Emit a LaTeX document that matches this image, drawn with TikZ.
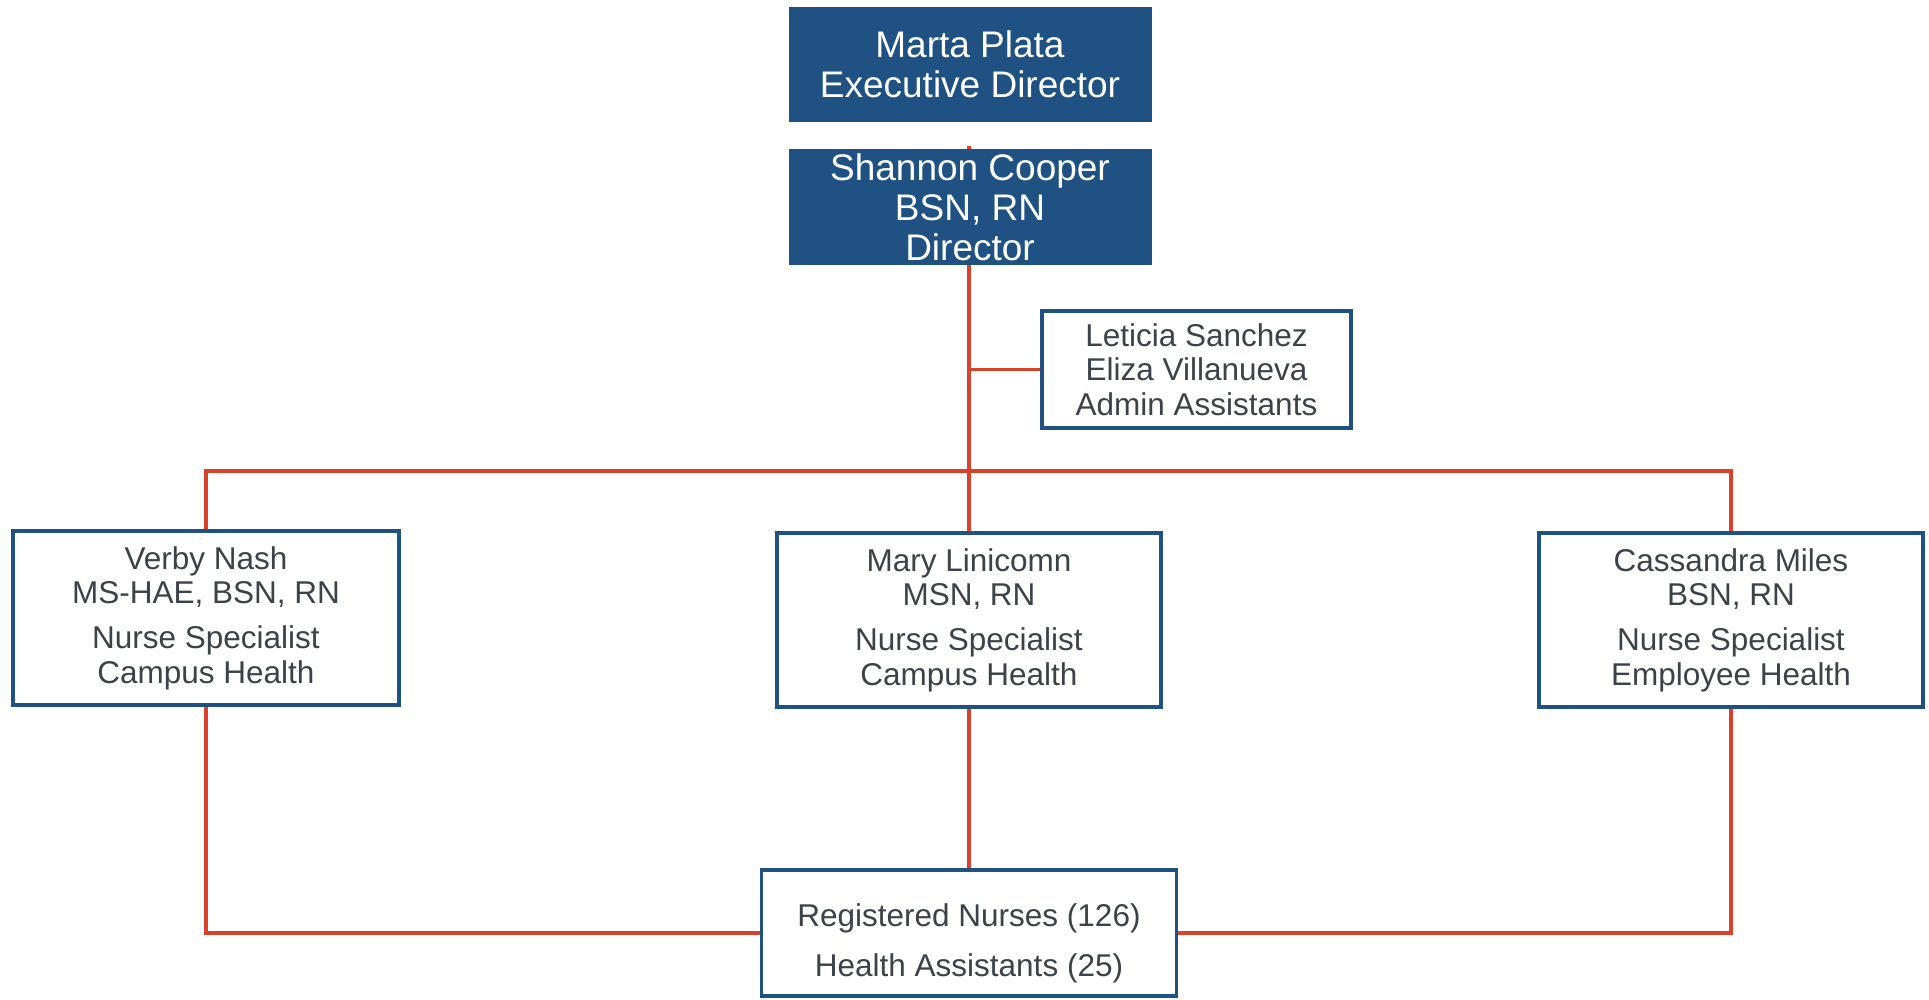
\documentclass[tikz,border=0pt]{standalone}
\usepackage{fontspec}
\setmainfont{Liberation Sans}
\usetikzlibrary{backgrounds,calc}
\definecolor{navy}{HTML}{1F5182}
\definecolor{redline}{HTML}{D9412B}
\definecolor{txtgray}{HTML}{3B4249}
\begin{document}
\begin{tikzpicture}[x=1pt,y=-1pt,
  headbox/.style={fill=navy,text=white,align=center,inner sep=0pt,outer sep=0pt,
    minimum width=363pt,font=\fontsize{37}{40}\selectfont},
  staffbox/.style={draw=navy,line width=3.5pt,fill=white,text=txtgray,align=center,
    inner sep=0pt,outer sep=0pt,font=\fontsize{31.5}{34.4}\selectfont},
  link/.style={draw=redline,line width=3.5pt},
  vlink/.style={draw=redline,line width=3.2pt}]
\useasboundingbox (0,0) rectangle (1929,999);
\node[headbox,minimum height=115pt] (marta) at (970,64.5) {Marta Plata\\Executive Director};
\node[headbox,minimum height=116pt] (shannon) at (970,207) {Shannon Cooper\\BSN, RN\\Director};
\node[staffbox,minimum width=309pt,minimum height=117pt] (admin) at (1196.5,369.5) {Leticia Sanchez\\Eliza Villanueva\\Admin Assistants};
\node[staffbox,minimum width=386pt,minimum height=174pt] (verby) at (206,618) {Verby Nash\\MS-HAE, BSN, RN\\[11pt]Nurse Specialist\\Campus Health};
\node[staffbox,minimum width=384pt,minimum height=174pt] (mary) at (969,620) {Mary Linicomn\\MSN, RN\\[11pt]Nurse Specialist\\Campus Health};
\node[staffbox,minimum width=384pt,minimum height=174pt] (cass) at (1731,620) {Cassandra Miles\\BSN, RN\\[11pt]Nurse Specialist\\Employee Health};
\node[staffbox,minimum width=415pt,minimum height=126pt,font=\fontsize{31.5}{50}\selectfont] (rn) at (969,933) {\raisebox{-8pt}[\height][\depth]{\begin{tabular}{@{}c@{}}Registered Nurses (126)\\Health Assistants (25)\end{tabular}}};
\coordinate (bus) at (969,471);
\begin{pgfonlayer}{background}
\draw[vlink] ([yshift=3pt]shannon.north -| bus) -- (bus) -- (mary.north);
\draw[link] (admin.west) -- (admin.west -| bus);
\draw[link] (verby.north) -- (verby.north |- bus) -- (cass.north |- bus) -- (cass.north);
\draw[vlink] (mary.south) -- (rn.north);
\draw[link] (verby.south) |- (rn.west);
\draw[link] (cass.south) |- (rn.east);
\end{pgfonlayer}
\end{tikzpicture}
\end{document}
